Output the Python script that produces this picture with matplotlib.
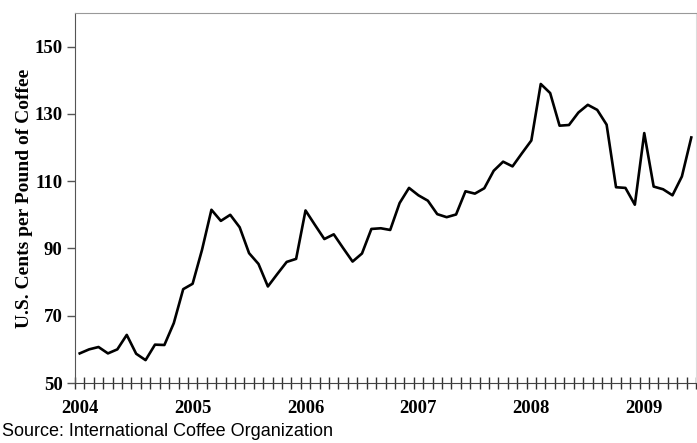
import numpy as np
import matplotlib.pyplot as plt

# monthly coffee price, Jan 2004 - Jun 2009
prices = [58.8, 60.0, 60.7, 58.8, 60.0, 64.3, 58.7, 56.8, 61.4, 61.3, 67.8, 77.9,
          79.5, 89.6, 101.5, 98.2, 100.0, 96.3, 88.6, 85.4, 78.7, 82.4, 86.0, 86.9,
          101.3, 97.0, 92.8, 94.2, 90.1, 86.1, 88.5, 95.8, 96.0, 95.5, 103.5, 108.0,
          105.8, 104.2, 100.2, 99.3, 100.1, 107.0, 106.3, 107.9, 113.1, 115.8, 114.4, 118.3,
          122.1, 138.9, 136.2, 126.5, 126.7, 130.4, 132.7, 131.2, 126.8, 108.2, 108.0, 103.0,
          124.3, 108.4, 107.6, 105.8, 111.4, 123.0]
years = ['2004', '2005', '2006', '2007', '2008', '2009']
yticks = [50, 70, 90, 110, 130, 150]

serif = 'Liberation Serif'
months = np.arange(len(prices))

fig = plt.figure(figsize=(6.97, 4.43), dpi=100)
ax = fig.add_axes([75/697, 1 - 383/443, (696 - 75)/697, (383 - 13)/443])

ax.plot(months, prices, color='black', lw=1.9)

ax.set_xlim(-0.5, len(prices) - 0.5)
ax.set_ylim(50, 160)

ax.set_yticks(yticks)
ax.set_yticklabels([str(v) for v in yticks], fontfamily=serif, fontweight='bold', fontsize=13.5)
ax.tick_params(axis='y', direction='out', length=6, width=1, color='#555555', pad=3)

ax.set_xticks(months[::12])
ax.set_xticklabels(years, fontfamily=serif, fontweight='bold', fontsize=13.5)
ax.set_xticks(np.arange(len(prices) + 1) - 0.5, minor=True)
ax.tick_params(axis='x', which='major', length=0, pad=12)
ax.tick_params(axis='x', which='minor', direction='inout', length=8, width=1, color='#333333')

ax.spines['top'].set_color('#999999')
ax.spines['right'].set_color('#dddddd')
ax.spines['left'].set_color('#555555')
ax.spines['bottom'].set_color('#444444')

ax.set_ylabel('U.S. Cents per Pound of Coffee', fontfamily=serif, fontweight='bold', fontsize=14)
ax.yaxis.set_label_coords((33 - 75)/621, 0.5)

fig.text(2/697, 1 - 432/443, 'Source: International Coffee Organization',
         fontfamily='Liberation Sans', fontsize=13, va='center', ha='left')

fig.savefig('out.png', dpi=100)
